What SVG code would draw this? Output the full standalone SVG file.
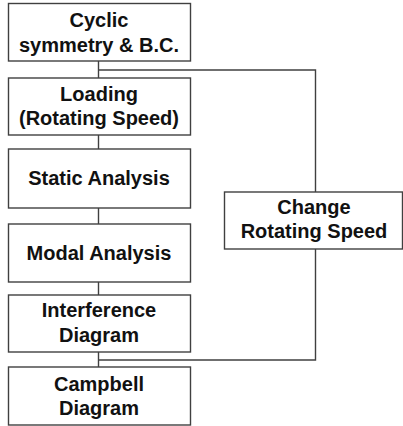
<svg xmlns="http://www.w3.org/2000/svg" width="403" height="426" viewBox="0 0 403 426">
<style>
.box{fill:#fff;stroke:#404040;stroke-width:1.4}
.t{font-family:"Liberation Sans",Arial,sans-serif;font-weight:bold;font-size:20px;fill:#111;text-anchor:middle}
.c{fill:none;stroke:#404040;stroke-width:1.4}
</style>
<rect width="403" height="426" fill="#fff"/>
<g id="connectors">
<path class="c" d="M98.5 61V78M98.5 135V149M98.5 208V224M98.5 282V295M98.5 352V367"/>
<path class="c" d="M98.5 70H315.5V192"/>
<path class="c" d="M315.5 249V360H98.5"/>
</g>
<g id="cyclic"><rect class="box" x="8.5" y="3.5" width="182" height="57.5"/><text class="t" x="99" y="27">Cyclic</text><text class="t" x="99" y="52">symmetry &amp; B.C.</text></g>
<g id="loading"><rect class="box" x="8.5" y="78" width="182" height="57"/><text class="t" x="99" y="101">Loading</text><text class="t" x="99" y="125">(Rotating Speed)</text></g>
<g id="static"><rect class="box" x="8.5" y="149" width="182" height="59"/><text class="t" x="99" y="185">Static Analysis</text></g>
<g id="modal"><rect class="box" x="8.5" y="224" width="182" height="58"/><text class="t" x="99" y="260">Modal Analysis</text></g>
<g id="interference"><rect class="box" x="8.5" y="295" width="182" height="57"/><text class="t" x="99" y="317">Interference</text><text class="t" x="99" y="342">Diagram</text></g>
<g id="campbell"><rect class="box" x="8.5" y="367" width="182" height="58"/><text class="t" x="99" y="391">Campbell</text><text class="t" x="99" y="415">Diagram</text></g>
<g id="change"><rect class="box" x="224.5" y="192" width="178" height="57"/><text class="t" x="314" y="214">Change</text><text class="t" x="314" y="238">Rotating Speed</text></g>
</svg>
